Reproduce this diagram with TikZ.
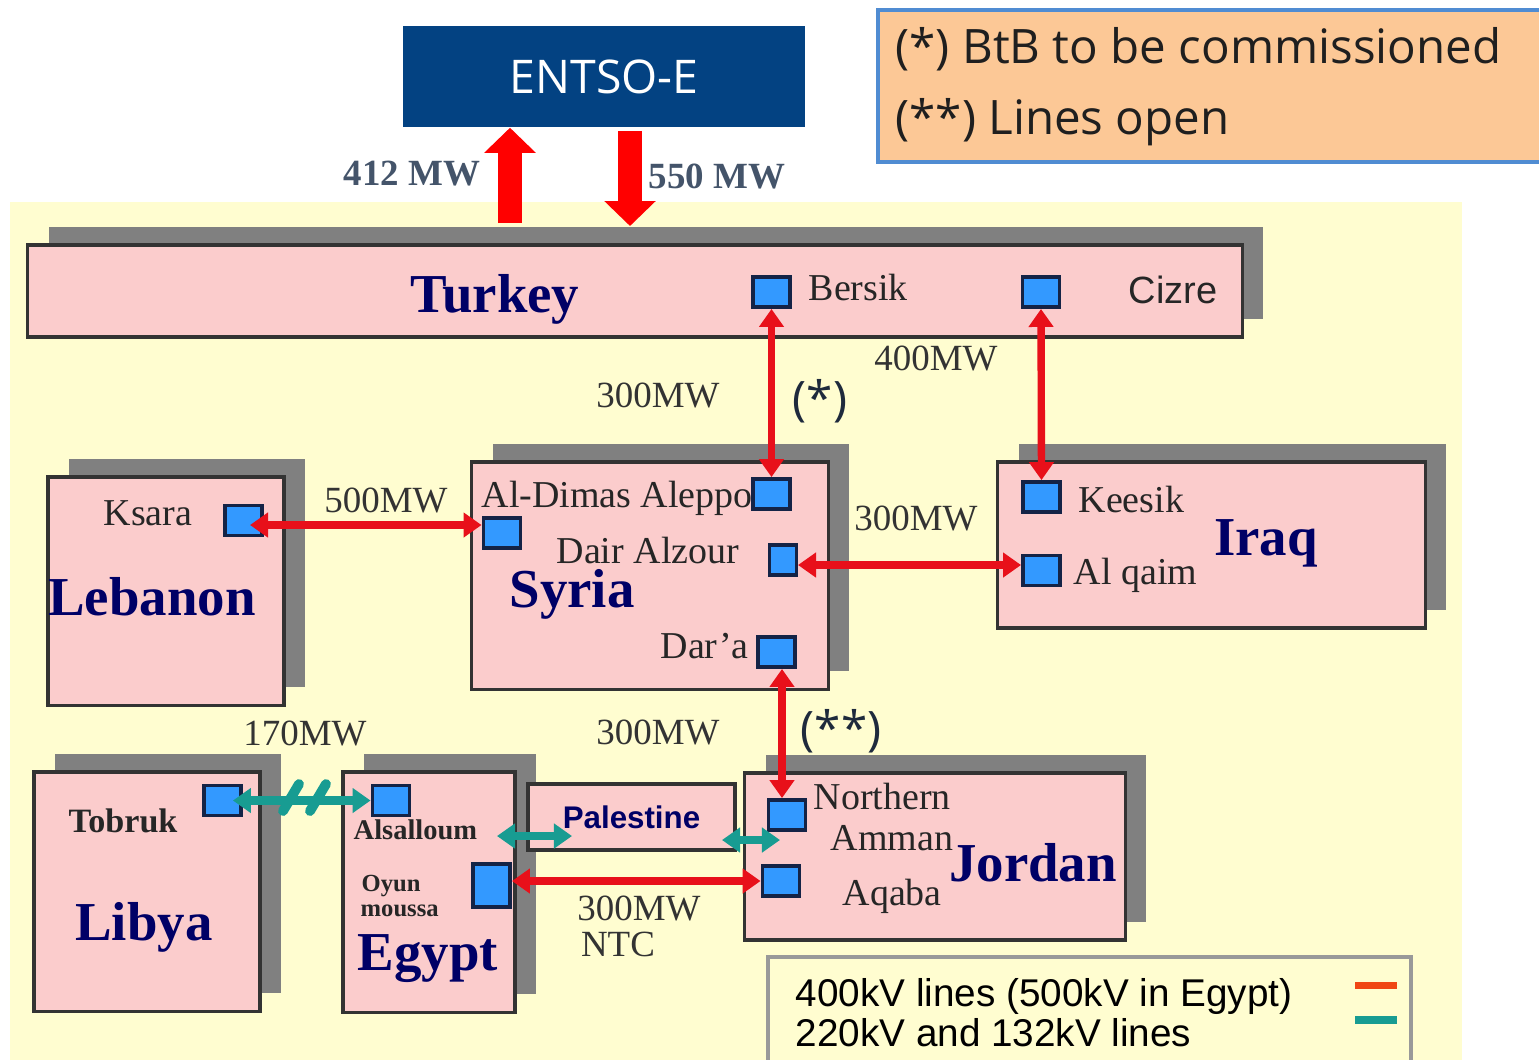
\documentclass[tikz,border=0pt]{standalone}
\usepackage{fontspec}
\setmainfont{Liberation Serif}
\setsansfont{Liberation Sans}
\newfontfamily\notefont{Open Sans}
\usetikzlibrary{arrows.meta,shadows}

\definecolor{bgyellow}{RGB}{255,253,208}
\definecolor{boxpink}{RGB}{251,204,204}
\definecolor{shadowgray}{RGB}{128,128,128}
\definecolor{subblue}{RGB}{51,153,255}
\definecolor{subline}{RGB}{20,35,70}
\definecolor{navy}{RGB}{0,0,102}
\definecolor{linkred}{RGB}{232,16,26}
\definecolor{linkteal}{RGB}{24,156,146}
\definecolor{entsoblue}{RGB}{3,66,130}
\definecolor{notepeach}{RGB}{252,200,150}
\definecolor{noteline}{RGB}{80,140,210}
\definecolor{mwgray}{RGB}{68,84,106}
\definecolor{starcol}{RGB}{30,42,60}
\definecolor{legendorange}{RGB}{240,70,20}

\tikzset{
  country/.style={draw=black!80, line width=0.9pt, fill=boxpink, inner sep=0pt,
    copy shadow={shadow xshift=0.21cm, shadow yshift=0.18cm, fill=shadowgray, draw=none}},
  sub/.style={draw=subline, line width=1.1pt, fill=subblue, inner sep=0pt,
    minimum width=0.37cm, minimum height=0.3cm},
  cname/.style={font=\fontsize{15.6}{18}\selectfont\bfseries, text=navy, inner sep=0pt},
  station/.style={font=\fontsize{10.8}{12}\selectfont, text=black!85, inner sep=0pt},
  mw/.style={font=\fontsize{10.5}{12}\selectfont, text=black!80, inner sep=0pt},
  bigmw/.style={font=\fontsize{10.5}{12}\selectfont\bfseries, text=mwgray, inner sep=0pt},
  notetext/.style={font=\notefont\fontsize{13.5}{16}\selectfont, text=black!88, inner sep=0pt},
  redlink/.style={linkred, line width=2.1pt,
    {Triangle[length=0.18cm,width=0.24cm]}-{Triangle[length=0.18cm,width=0.24cm]}},
  teallink/.style={linkteal, line width=2.3pt,
    {Triangle[length=0.18cm,width=0.24cm]}-{Triangle[length=0.18cm,width=0.24cm]}},
  bigarrow/.style={red, line width=0.24cm, -{Triangle[length=0.25cm,width=0.5cm]}},
}

\begin{document}
\begin{tikzpicture}[x=0.01cm,y=-0.01cm]
\clip (0,0) rectangle (1539,1059);
\fill[white] (0,0) rectangle (1539,1059);
\fill[bgyellow] (10,202) rectangle (1462,1070);

% ENTSO-E and the note
\node[fill=entsoblue, text=white, font=\notefont\fontsize{13.2}{15}\selectfont,
  minimum width=4.02cm, minimum height=1.01cm, inner sep=0pt] (entso) at (604,76.5) {ENTSO-E};
\node[draw=noteline, fill=notepeach, line width=1pt, minimum width=6.75cm,
  minimum height=1.52cm, anchor=north west] (note) at (876,8) {};
\node[notetext, anchor=base west] (star1) at (895,63) {(*) BtB to be commissioned};
\node[notetext, anchor=base west] (star2) at (895,134) {(**) Lines open};

% countries
\node[country, minimum width=12.14cm, minimum height=0.92cm] (turkey) at (635,291) {};
\node[country, minimum width=2.36cm, minimum height=2.28cm] (lebanon) at (166,591) {};
\node[country, minimum width=3.56cm, minimum height=2.27cm] (syria) at (650,575.5) {};
\node[country, minimum width=4.27cm, minimum height=1.66cm] (iraq) at (1211.5,545) {};
\node[country, minimum width=2.26cm, minimum height=2.39cm] (libya) at (147,891.5) {};
\node[country, minimum width=1.72cm, minimum height=2.40cm] (egypt) at (429,892) {};
\node[country, minimum width=3.80cm, minimum height=1.67cm] (jordan) at (935,856.5) {};
\node[draw=black!80, line width=0.9pt, fill=boxpink, minimum width=2.07cm, minimum height=0.66cm,
  inner sep=0pt, font=\sffamily\bfseries\fontsize{8.9}{10}\selectfont, text=navy] (pal) at (631.5,817) {Palestine};

\node[cname, anchor=base] at (495,312) {Turkey};
\node[cname, anchor=base] at (152,615) {Lebanon};
\node[cname, anchor=base] at (572,607) {Syria};
\node[cname, anchor=base] at (1266,555) {Iraq};
\node[cname, anchor=base] at (144,940) {Libya};
\node[cname, anchor=base] at (428,970) {Egypt};
\node[cname, anchor=base] at (1033,881) {Jordan};

% substations
\node[sub] (bersik) at (771.5,292) {};
\node[sub] (cizre) at (1041,292) {};
\node[sub] (aleppo) at (771.5,494) {};
\node[sub] (dimas) at (502,533) {};
\node[sub, minimum width=0.27cm] (dair) at (783,560) {};
\node[sub] (dara) at (776.5,652) {};
\node[sub] (ksara) at (243.5,520.5) {};
\node[sub] (keesik) at (1041.5,497) {};
\node[sub] (alqaim) at (1041.5,570.5) {};
\node[sub] (tobruk) at (222.5,800.5) {};
\node[sub] (salloum) at (391,800.5) {};
\node[sub, minimum height=0.43cm] (oyun) at (491.5,885.5) {};
\node[sub] (northern) at (787,815) {};
\node[sub] (aqaba) at (781,881) {};

\node[station, anchor=base west] at (808,300) {Bersik};
\node[station, anchor=base west, font=\sffamily\fontsize{10.8}{12}\selectfont] at (1128,303) {Cizre};
\node[station, anchor=base west] at (481,507) {Al-Dimas Aleppo};
\node[station, anchor=base west] at (556,563) {Dair Alzour};
\node[station, anchor=base west] at (660,658) {Dar’a};
\node[station, anchor=base west] at (103,525) {Ksara};
\node[station, anchor=base west] at (1078,512) {Keesik};
\node[station, anchor=base west] at (1073,584) {Al qaim};
\node[station, anchor=base west] at (813,809) {Northern};
\node[station, anchor=base west] at (830,850) {Amman};
\node[station, anchor=base west] at (842,905) {Aqaba};
\node[station, anchor=base west, font=\bfseries\fontsize{9.7}{11}\selectfont] at (68,832) {Tobruk};
\node[station, anchor=base west, font=\bfseries\fontsize{8.1}{10}\selectfont] at (353,839) {Alsalloum};
\node[station, anchor=base west, font=\bfseries\fontsize{7}{8}\selectfont] at (361,891) {Oyun};
\node[station, anchor=base west, font=\bfseries\fontsize{7}{8}\selectfont] at (360,916) {moussa};

% exchanges with ENTSO-E
\coordinate (upfoot) at (510,223);
\coordinate (downtip) at (630,226);
\draw[bigarrow] (upfoot) -- (upfoot |- entso.south);
\draw[bigarrow] ([yshift=-0.03cm]downtip |- entso.south) -- (downtip);
\node[bigmw, anchor=base] at (412,185) {412 MW};
\node[bigmw, anchor=base] at (717,188) {550 MW};

% 400 kV links
\coordinate (lebline) at (250,525);
\coordinate (irqline) at (798,565);
\draw[redlink] (bersik.south) -- (aleppo.north);
\draw[redlink] (cizre.south) -- (keesik.north);
\draw[redlink] (lebline) -- (lebline -| dimas.west);
\draw[redlink] (irqline) -- (irqline -| alqaim.west);
\draw[redlink] ([xshift=0.055cm]dara.south) -- ([xshift=0.055cm]dara.south |- northern.north);
\draw[redlink] (oyun.east |- aqaba.west) -- (aqaba.west);

% 220/132 kV links
\coordinate (egpalA) at (497,836);
\coordinate (egpalB) at (572,836);
\coordinate (paljoA) at (722,840);
\coordinate (paljoB) at (780,840);
\draw[teallink] ([xshift=-0.1cm]tobruk.east) -- (salloum.west);
\foreach \hx in {291,318}
  \draw[linkteal, line width=2.8pt, line cap=round] (\hx-8,811) -- (\hx+8,784);
\draw[teallink] (egpalA) -- (egpalB);
\draw[teallink] (paljoA) -- (paljoB);

\node[mw, anchor=base] at (658,407) {300MW};
\node[mw, anchor=base] at (936,370) {400MW};
\node[mw, anchor=base] at (386,512) {500MW};
\node[mw, anchor=base] at (916,530) {300MW};
\node[mw, anchor=base] at (658,744) {300MW};
\node[mw, anchor=base] at (305,745) {170MW};
\node[mw, anchor=base] at (639,920) {300MW};
\node[mw, anchor=base] at (618,956) {NTC};
\node[notetext, text=starcol] at (820,401) {(*)};
\node[notetext, text=starcol] at (841,731) {(**)};

% legend
\draw[draw=gray!80, line width=1pt, fill=bgyellow] (768,957) rectangle (1411,1070);
\node[anchor=base west, inner sep=0pt, font=\sffamily\fontsize{11}{13}\selectfont] (l400) at (795,1006) {400kV lines (500kV in Egypt)};
\node[anchor=base west, inner sep=0pt, font=\sffamily\fontsize{11}{13}\selectfont] (l220) at (795,1046) {220kV and 132kV lines};
\fill[legendorange] (1355,982) rectangle (1397,989);
\fill[linkteal] (1355,1016) rectangle (1397,1024);
\end{tikzpicture}
\end{document}
